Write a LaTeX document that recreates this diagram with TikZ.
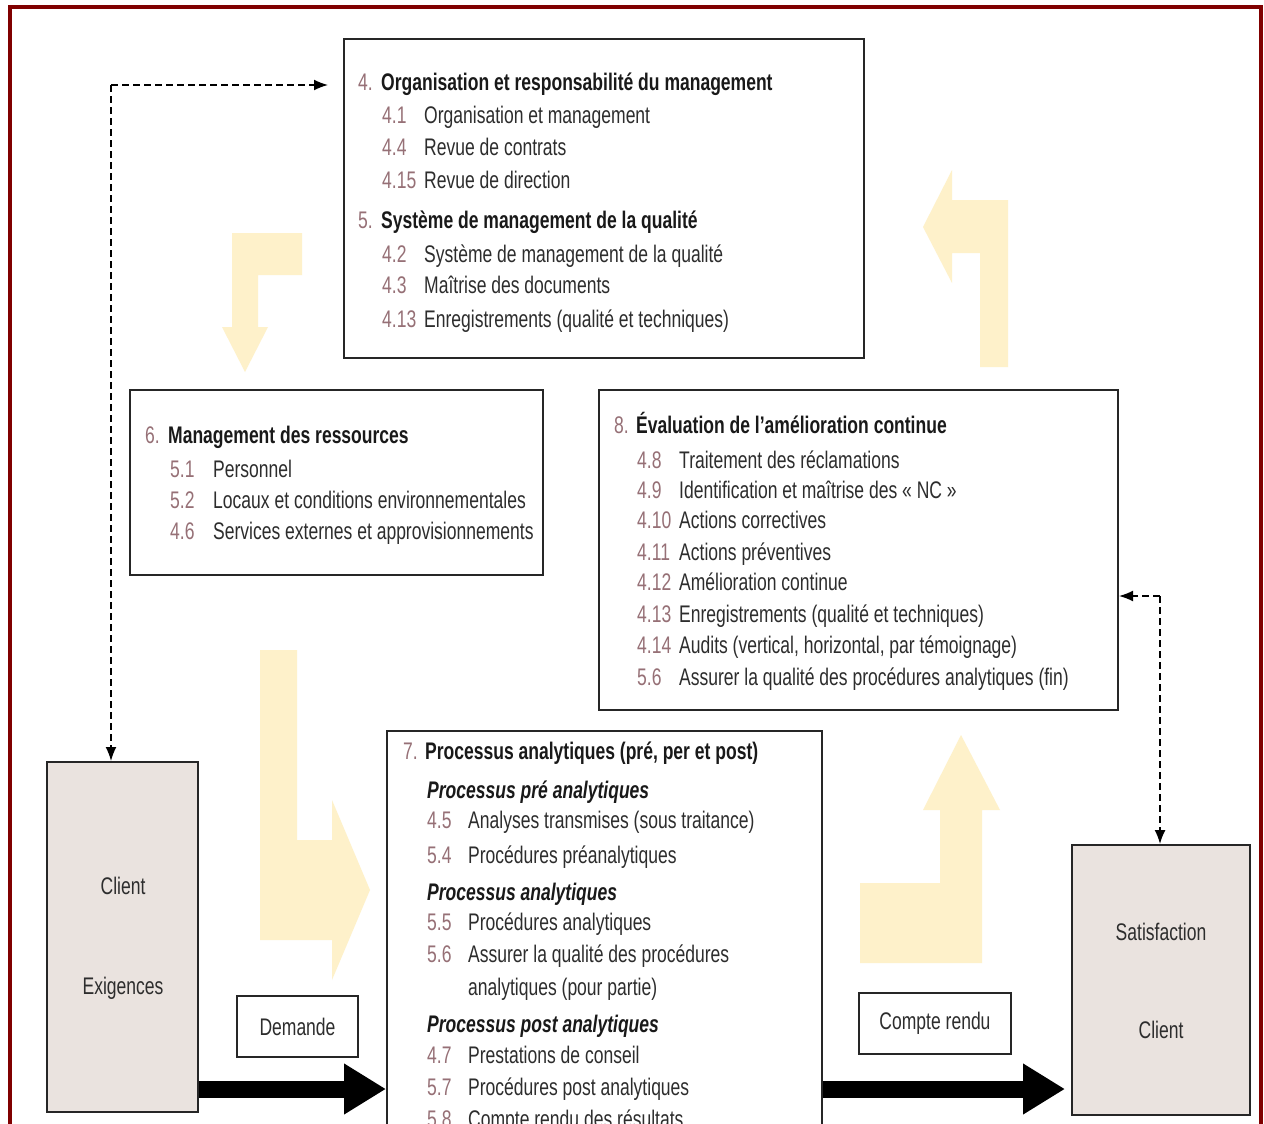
\documentclass[tikz,border=0pt]{standalone}
\usepackage{fontspec}
\setmainfont{Liberation Sans}[FakeStretch=0.73]
\usetikzlibrary{arrows.meta}
\definecolor{numc}{RGB}{150,112,118}
\definecolor{txtc}{RGB}{45,45,45}
\definecolor{framec}{RGB}{128,0,0}
\definecolor{clientc}{RGB}{234,227,223}
\definecolor{yel}{RGB}{254,241,202}
\tikzset{
 box/.style={draw=black!85, line width=2pt, rectangle, inner sep=0pt, fill=white},
 cbox/.style={box, fill=clientc},
 lbl/.style={anchor=base west, inner sep=0pt, text=txtc, font=\fontsize{24}{28}\selectfont},
 num/.style={lbl, text=numc},
 hd/.style={lbl, text=black!90, font=\fontsize{24}{28}\selectfont\bfseries},
 sub/.style={lbl, text=black!90, font=\fontsize{24}{28}\selectfont\bfseries\itshape},
 ctext/.style={inner sep=0pt, text=txtc, font=\fontsize{24}{28}\selectfont},
 dashconn/.style={dash pattern=on 7pt off 4pt, line width=1.6pt, -{Latex[length=14pt,width=11pt]}},
 big/.style={line width=17pt, -{Triangle[length=42pt,width=48pt]}},
 yarrow/.style={fill=yel, draw=none}
}
\begin{document}
\begin{tikzpicture}[x=1pt,y=-1pt]
\useasboundingbox (0,0) rectangle (1264,1124);
\fill[white] (0,0) rectangle (1264,1124);
% frame
\draw[framec, line width=4pt] (10,1140) -- (10,7) -- (1261,7) -- (1261,1140);

% yellow arrows
\fill[yarrow] (232,233) -- (302,233) -- (302,275) -- (258,275) -- (258,327) -- (268,327) -- (245,372) -- (222,327) -- (232,327) -- cycle;
\fill[yarrow] (980,367) -- (1008,367) -- (1008,200) -- (952,200) -- (952,170) -- (923,227) -- (952,283) -- (952,253) -- (980,253) -- cycle;
\fill[yarrow] (260,650) -- (297,650) -- (297,840) -- (332,840) -- (332,800) -- (370,890) -- (332,980) -- (332,940) -- (260,940) -- cycle;
\fill[yarrow] (860,963) -- (982,963) -- (982,810) -- (1000,810) -- (961,735) -- (923,810) -- (940,810) -- (940,883) -- (860,883) -- cycle;

% boxes
\node[box, minimum width=520pt, minimum height=319pt] (box45) at (604,198.5) {};
\node[box, minimum width=413pt, minimum height=185pt] (box6) at (336.5,482.5) {};
\node[box, minimum width=519pt, minimum height=320pt] (box8) at (858.5,550) {};
\node[box, minimum width=435pt, minimum height=469pt] (box7) at (604.5,965.5) {};
\node[cbox, minimum width=151pt, minimum height=350pt] (client) at (122.5,937) {};
\node[cbox, minimum width=178pt, minimum height=270pt] (sat) at (1161,980) {};
\node[box, minimum width=121pt, minimum height=61pt] (demande) at (297.5,1026.5) {};
\node[box, minimum width=152pt, minimum height=61pt] (compte) at (935,1023.5) {};

% box 4/5 text
\node[num] (t4) at (358,90) {4.};
\node[hd] (t4h) at (381,90) {Organisation et responsabilité du management};
\node[num] (t41) at (382,123) {4.1}; \node[lbl] (t41t) at (424,123) {Organisation et management};
\node[num] (t44) at (382,155) {4.4}; \node[lbl] (t44t) at (424,155) {Revue de contrats};
\node[num] (t415) at (382,188) {4.15}; \node[lbl] (t415t) at (424,188) {Revue de direction};
\node[num] (t5) at (358,228) {5.};
\node[hd] (t5h) at (381,228) {Système de management de la qualité};
\node[num] (t42) at (382,262) {4.2}; \node[lbl] (t42t) at (424,262) {Système de management de la qualité};
\node[num] (t43) at (382,293) {4.3}; \node[lbl] (t43t) at (424,293) {Maîtrise des documents};
\node[num] (t413) at (382,327) {4.13}; \node[lbl] (t413t) at (424,327) {Enregistrements (qualité et techniques)};

% box 6 text
\node[num] (t6) at (145,443) {6.};
\node[hd] (t6h) at (168,443) {Management des ressources};
\node[num] (t51) at (170,477) {5.1}; \node[lbl] (t51t) at (213,477) {Personnel};
\node[num] (t52) at (170,508) {5.2}; \node[lbl] (t52t) at (213,508) {Locaux et conditions  environnementales};
\node[num] (t46) at (170,539) {4.6}; \node[lbl] (t46t) at (213,539) {Services externes et approvisionnements};

% box 8 text
\node[num] (t8) at (614,433) {8.};
\node[hd] (t8h) at (636,433) {Évaluation de l’amélioration continue};
\node[num] (t48) at (637,468) {4.8}; \node[lbl] (t48t) at (679,468) {Traitement des réclamations};
\node[num] (t49) at (637,498) {4.9}; \node[lbl] (t49t) at (679,498) {Identification et maîtrise des « NC »};
\node[num] (t410) at (637,528) {4.10}; \node[lbl] (t410t) at (679,528) {Actions correctives};
\node[num] (t411) at (637,560) {4.11}; \node[lbl] (t411t) at (679,560) {Actions préventives};
\node[num] (t412) at (637,590) {4.12}; \node[lbl] (t412t) at (679,590) {Amélioration continue};
\node[num] (t413b) at (637,622) {4.13}; \node[lbl] (t413bt) at (679,622) {Enregistrements (qualité et techniques)};
\node[num] (t414) at (637,653) {4.14}; \node[lbl] (t414t) at (679,653) {Audits (vertical, horizontal, par témoignage)};
\node[num] (t56) at (637,685) {5.6}; \node[lbl] (t56t) at (679,685) {Assurer la qualité des procédures analytiques (fin)};

% box 7 text
\node[num] (t7) at (403,759) {7.};
\node[hd] (t7h) at (425,759) {Processus analytiques (pré, per et post)};
\node[sub] (s1) at (427,798) {Processus pré analytiques};
\node[num] (t45) at (427,828) {4.5}; \node[lbl] (t45t) at (468,828) {Analyses transmises (sous traitance)};
\node[num] (t54) at (427,863) {5.4}; \node[lbl] (t54t) at (468,863) {Procédures préanalytiques};
\node[sub] (s2) at (427,900) {Processus analytiques};
\node[num] (t55) at (427,930) {5.5}; \node[lbl] (t55t) at (468,930) {Procédures analytiques};
\node[num] (t56b) at (427,962) {5.6}; \node[lbl] (t56bt) at (468,962) {Assurer la qualité des procédures};
\node[lbl] (t56c) at (468,995) {analytiques (pour partie)};
\node[sub] (s3) at (427,1032) {Processus post analytiques};
\node[num] (t47) at (427,1063) {4.7}; \node[lbl] (t47t) at (468,1063) {Prestations de conseil};
\node[num] (t57) at (427,1095) {5.7}; \node[lbl] (t57t) at (468,1095) {Procédures post analytiques};
\node[num] (t58) at (427,1127) {5.8}; \node[lbl] (t58t) at (468,1127) {Compte rendu des résultats};

% side boxes text
\node[ctext] (cl1) at (123,886) {Client};
\node[ctext] (cl2) at (123,988) {Exigences};
\node[ctext] (sa1) at (1161,932) {Satisfaction};
\node[ctext] (sa2) at (1161,1030) {Client};
\node[ctext] (dem) at (demande.center) {Demande};
\node[ctext] (cr) at (compte.center) {Compte rendu};

% dashed connectors
\coordinate (cl) at (111,85);
\draw[dashconn, shorten >=15pt] (cl) -- (box45.west |- cl);
\draw[dashconn] (cl) -- (cl |- client.north);
\coordinate (cr) at (1160,596);
\draw[dashconn] (cr) -- (box8.east |- cr);
\draw[dashconn] (cr) -- (cr |- sat.north);

% thick arrows
\coordinate (ya) at (0,1089);
\draw[big] (client.east |- ya) -- (box7.west |- ya);
\draw[big, shorten >=6pt] (box7.east |- ya) -- (sat.west |- ya);
\end{tikzpicture}
\end{document}
